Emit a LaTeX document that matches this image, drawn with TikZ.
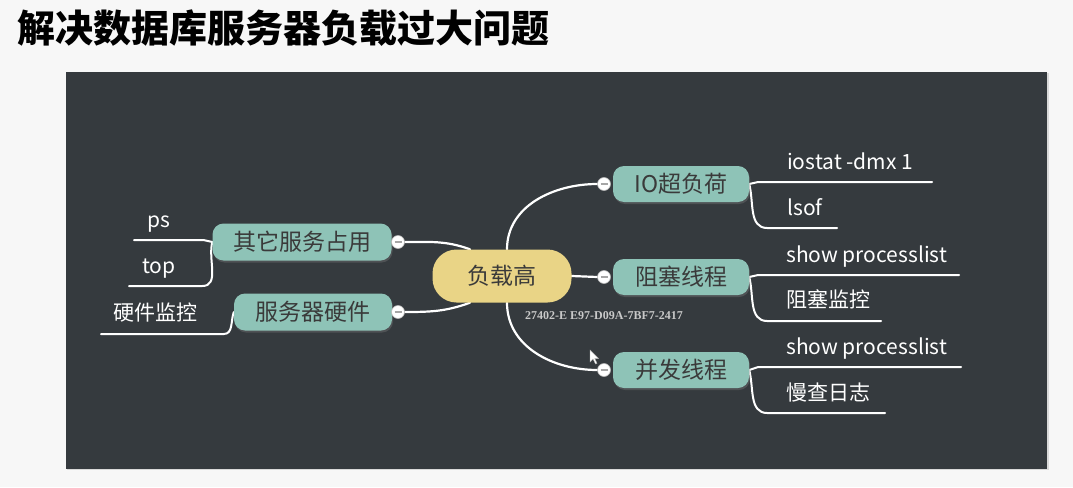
\documentclass[tikz,border=0pt]{standalone}
\usepackage{fontspec}
\setmainfont{Noto Sans CJK SC}
\newfontfamily\serialfont{Liberation Serif}
\usetikzlibrary{shadows}

\definecolor{pagebg}{HTML}{F7F7F7}
\definecolor{panelbg}{HTML}{353A3E}
\definecolor{topicteal}{HTML}{8EC3B7}
\definecolor{rootyellow}{HTML}{E9D486}
\definecolor{inktext}{HTML}{3A3A3A}
\definecolor{serialgray}{HTML}{C9C9C9}

\pgfdeclarelayer{paper}
\pgfdeclarelayer{links}
\pgfsetlayers{paper,links,main}

\tikzset{
  root/.style={fill=rootyellow, text=inktext, rounded corners=24pt,
    minimum width=139pt, minimum height=53pt, inner sep=0pt,
    font=\fontsize{23}{27}\selectfont},
  topic/.style={fill=topicteal, text=inktext, rounded corners=11pt,
    minimum height=36pt, inner sep=0pt, font=\fontsize{23}{27}\selectfont,
    drop shadow={shadow xshift=1pt, shadow yshift=-2pt, opacity=0.35}},
  fold/.style={circle, fill=white, draw=gray!55, line width=0.6pt,
    minimum size=13pt, inner sep=0pt,
    path picture={\draw[gray!70, line width=1.3pt]
      ([xshift=-3.5pt]path picture bounding box.center) --
      ([xshift=3.5pt]path picture bounding box.center);}},
  leaf/.style={anchor=base west, inner sep=0pt, text=white,
    font=\fontsize{21}{25}\selectfont},
  branch/.style={draw=white, line width=2.2pt, line cap=round},
  twig/.style={draw=white, line width=2pt, line cap=round},
}

\begin{document}
\begin{tikzpicture}[x=1pt, y=1pt]
\useasboundingbox (0,0) rectangle (1073,-487);

\begin{pgfonlayer}{paper}
  \fill[pagebg] (0,0) rectangle (1073,-487);
  \fill[gray!30] (67,-73) rectangle (1049,-470);
  \fill[panelbg] (66,-72) rectangle (1047,-469);
\end{pgfonlayer}

% heading
\node[anchor=west, inner sep=0pt, font=\fontsize{38}{42}\selectfont\bfseries]
  (heading) at (17,-28) {解决数据库服务器负载过大问题};

% central topic
\node[root] (c) at (502,-276) {负载高};
\node[font=\serialfont\fontsize{12}{13}\selectfont\bfseries, text=serialgray,
  inner sep=0pt] (serial) at (604,-316) {27402-E E97-D09A-7BF7-2417};

% right-hand topics
\node[topic, minimum width=136pt] (io) at (681,-184) {IO超负荷};
\node[topic, minimum width=136pt] (zs) at (681,-277) {阻塞线程};
\node[topic, minimum width=136pt] (pf) at (681,-370) {并发线程};
\node[fold] (ioc) at (604,-184) {};
\node[fold] (zsc) at (604,-277) {};
\node[fold] (pfc) at (604,-370) {};

% left-hand topics
\node[topic, minimum width=179pt, minimum height=37pt] (qt) at (302,-242) {其它服务占用};
\node[topic, minimum width=158pt, minimum height=37pt] (hw) at (313,-312) {服务器硬件};
\node[fold] (qtc) at (398,-242) {};
\node[fold] (hwc) at (398,-312) {};

% leaves
\node[leaf] (l-iostat) at (787,-169) {iostat -dmx 1};
\node[leaf] (l-lsof)   at (787,-215) {lsof};
\node[leaf] (l-sp1)    at (786,-262) {show processlist};
\node[leaf] (l-zsjk)   at (786,-307) {阻塞监控};
\node[leaf] (l-sp2)    at (786,-354) {show processlist};
\node[leaf] (l-mcrz)   at (786,-400) {慢查日志};
\node[leaf] (l-ps)     at (147,-227) {ps};
\node[leaf] (l-top)    at (142,-273) {top};
\node[leaf] (l-hwjk)   at (113,-320) {硬件监控};

% free ends of the underlines
\coordinate (e-iostat) at (932,-182);
\coordinate (e-lsof)   at (837,-228);
\coordinate (e-sp1)    at (959,-275);
\coordinate (e-zsjk)   at (881,-321);
\coordinate (e-sp2)    at (961,-367);
\coordinate (e-mcrz)   at (885,-413);
\coordinate (e-ps)     at (134,-240);
\coordinate (e-top)    at (129,-286);
\coordinate (e-hwjk)   at (101,-334);

\begin{pgfonlayer}{links}
  % root to topics
  \draw[branch] ([xshift=5pt]c.north) to[out=90,in=180] (ioc.west);
  \draw[branch] (c.east) -- (zsc.west);
  \draw[branch] ([xshift=5pt]c.south) to[out=-90,in=180] (pfc.west);
  \draw[branch] (qtc.east) to[out=0,in=160] ([xshift=-32pt]c.north);
  \draw[branch] (hwc.east) to[out=0,in=-160] ([xshift=-32pt]c.south);

  % topics to leaves
  \draw[twig] (io.east) to[out=0,in=180] ++(9,2) -- (e-iostat);
  \draw[twig] (io.east) to[out=-75,in=180] ++(18,-44) -- (e-lsof);
  \draw[twig] (zs.east) to[out=0,in=180] ++(9,2) -- (e-sp1);
  \draw[twig] (zs.east) to[out=-75,in=180] ++(18,-44) -- (e-zsjk);
  \draw[twig] (pf.east) to[out=0,in=180] ++(9,3) -- (e-sp2);
  \draw[twig] (pf.east) to[out=-75,in=180] ++(18,-43) -- (e-mcrz);
  \draw[twig] (qt.west) to[out=180,in=0] ++(-9,2) -- (e-ps);
  \draw[twig] (qt.west) to[out=-105,in=0] ++(-10,-44) -- (e-top);
  \draw[twig] (hw.west) to[out=-110,in=0] ++(-10,-22) -- (e-hwjk);
\end{pgfonlayer}

% mouse pointer
\filldraw[fill=white, draw=gray!60, line width=0.4pt]
  (590,-350) -- (590,-362) -- (593,-359) -- (595.5,-364) -- (597,-363.3)
  -- (594.7,-358.5) -- (598.5,-358.5) -- cycle;
\end{tikzpicture}
\end{document}
